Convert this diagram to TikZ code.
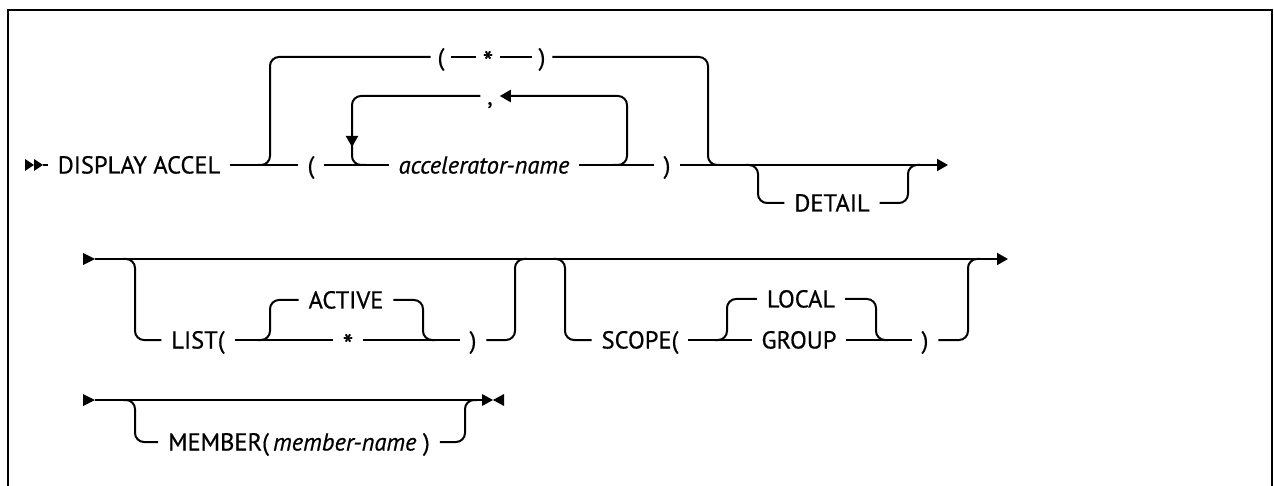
\documentclass[tikz,border=0pt]{standalone}
\usepackage{fontspec}
\setmainfont{PT Sans}[FakeBold=0.6]
\usetikzlibrary{arrows.meta}
\newcommand{\rrfont}{\fontsize{24.5}{28}\selectfont}
\newcommand{\rrital}{\fontsize{24.5}{28}\selectfont\itshape}
\newcommand{\rrstar}{\raisebox{-7pt}{\fontsize{30}{30}\selectfont *}}
\begin{document}
\begin{tikzpicture}[x=1pt,y=-1pt, line width=2pt, rounded corners=9pt,
  t/.style={font=\rrfont, inner xsep=10pt, inner ysep=0pt, text height=17pt, text depth=0pt, outer sep=0pt},
  ts/.style={t, inner xsep=7pt},
  ti/.style={t, font=\rrital},
  tip/.style={-{Triangle[length=11pt,width=12pt]}},
  headmark/.style={fill=black, sharp corners}
]
\useasboundingbox (0,0) rectangle (1274,486);
\draw[sharp corners] (8,488) -- (8,10) -- (1272,10) -- (1272,488);

% ---------- row 1 ----------
\fill[headmark] (25,159) -- (34,165) -- (25,171) -- cycle;
\fill[headmark] (34,159) -- (43,165) -- (34,171) -- cycle;
\coordinate (r1s) at (43,165);
\node[t] (disp) at (139,165) {DISPLAY ACCEL};
\draw (r1s) -- (disp.west);
\node[t] (p1) at (311,165) {(};
\draw (disp.east) -- (p1.west);
\node[ti] (acc) at (484,165) {accelerator-name};
\draw (p1.east) -- (acc.west);
\node[t] (p2) at (667,165) {)};
\draw (acc.east) -- (p2.west);
\coordinate (r1e) at (948,165);
\draw[tip] (p2.east) -- (r1e);

% upper choice ( * )
\node[ts] (tlp) at (441,57) {(};
\node[ts] (tstar) at (488,57) {\rrstar};
\node[ts] (trp) at (542,57) {)};
\draw (258,165) -- (270,165) -- (270,57) -- (tlp.west);
\draw (tlp.east) -- (tstar.west);
\draw (tstar.east) -- (trp.west);
\draw (trp.east) -- (708,57) -- (708,165) -- (720,165);

% repeat loop with comma
\node[ts] (comma) at (490,96) {,};
\draw[tip] (613,165) -- (627,165) -- (627,96) -- (comma.east);
\draw[tip] (comma.west) -- (352,96) -- (352,147);
\draw (352,140) -- (352,165) -- (366,165);

% DETAIL
\node[t] (det) at (832,203) {DETAIL};
\draw (746,165) -- (758,165) -- (758,203) -- (det.west);
\draw (det.east) -- (908,203) -- (908,165) -- (920,165);

% ---------- row 2 ----------
\fill[headmark] (83,253) -- (95,259) -- (83,265) -- cycle;
\coordinate (r2s) at (95,259);
\coordinate (r2e) at (1008,259);
\draw[tip] (r2s) -- (r2e);

\node[t] (list) at (198,340) {LIST(};
\draw (123,259) -- (135,259) -- (135,340) -- (list.west);
\node[t] (ast) at (348,340) {\rrstar};
\draw (list.east) -- (ast.west);
\node[t] (act) at (346,300) {ACTIVE};
\draw (258,340) -- (270,340) -- (270,300) -- (act.west);
\draw (act.east) -- (423,300) -- (423,340) -- (435,340);
\node[t] (rp2) at (473,340) {)};
\draw (ast.east) -- (rp2.west);
\draw (rp2.east) -- (515,340) -- (515,259) -- (527,259);

\node[t] (scope) at (640,340) {SCOPE(};
\draw (553,259) -- (565,259) -- (565,340) -- (scope.west);
\node[t] (grp) at (799,340) {GROUP};
\draw (scope.east) -- (grp.west);
\node[t] (loc) at (801,299) {LOCAL};
\draw (715,340) -- (727,340) -- (727,299) -- (loc.west);
\draw (loc.east) -- (876,299) -- (876,340) -- (888,340);
\node[t] (rp3) at (925,340) {)};
\draw (grp.east) -- (rp3.west);
\draw (rp3.east) -- (968,340) -- (968,259) -- (980,259);

% ---------- row 3 ----------
\fill[headmark] (83,394) -- (95,400) -- (83,406) -- cycle;
\coordinate (r3s) at (95,400);
\coordinate (r3e) at (482,400);
\draw (r3s) -- (r3e);
\fill[headmark] (482,394) -- (493,400) -- (482,406) -- cycle;
\fill[headmark] (504,394) -- (493,400) -- (504,406) -- cycle;

\node[t] (mem) at (299,442) {MEMBER({\rrital\,member-name} )};
\draw (123,400) -- (135,400) -- (135,442) -- (mem.west);
\draw (mem.east) -- (465,442) -- (465,400) -- (477,400);
\end{tikzpicture}
\end{document}
